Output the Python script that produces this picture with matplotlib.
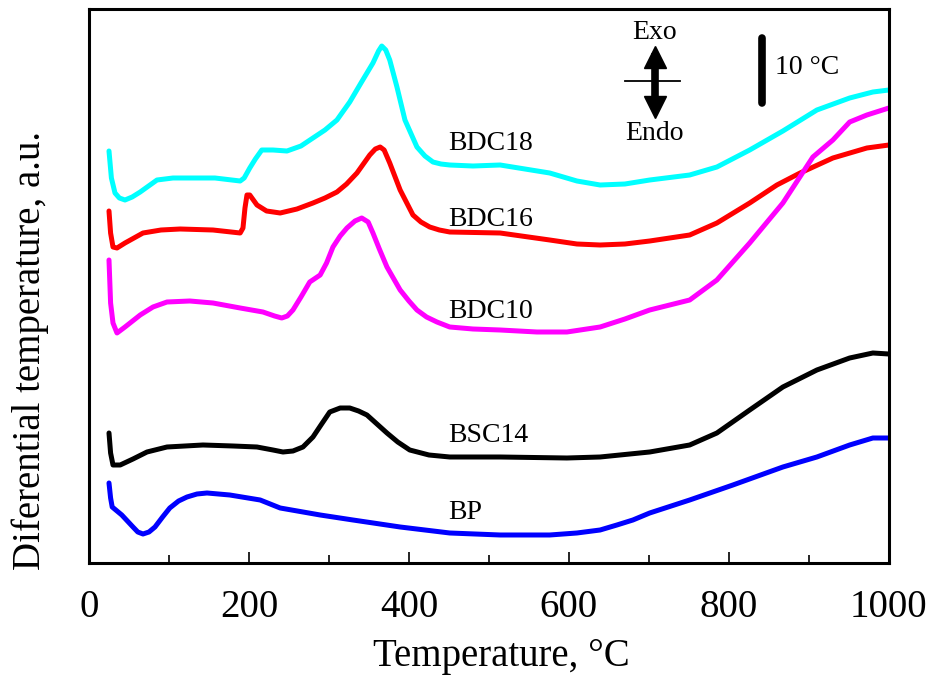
import numpy as np
import matplotlib
matplotlib.use('Agg')
import matplotlib.pyplot as plt
from matplotlib.ticker import MultipleLocator

plt.rcParams['font.family'] = ['Liberation Serif', 'DejaVu Serif']

# Curves: temperature (C) and differential temperature (a.u.)
bdc18_t = [25, 28, 32.5, 38, 45, 54, 64, 85, 105, 126, 157.5, 189, 194, 201, 208, 216, 230, 247.5,
           265, 280, 295, 310, 326, 340, 355, 362, 366, 371, 376, 385, 395, 410, 420, 430, 440,
           451, 480, 514, 545, 576, 610, 639, 670, 701, 751, 785, 826, 867.5, 910, 951, 980, 1000]
bdc18_v = [412, 385, 370, 365, 363, 366, 371, 383, 385, 385, 385, 382, 385, 395, 404, 413, 413, 412,
           417, 425, 433, 443, 461, 480, 500, 512, 517, 513, 503, 476, 443, 416, 407, 401, 399,
           398, 397, 398, 394, 390, 382, 378, 379, 383, 388, 396, 413, 432, 453, 465, 471, 473]

bdc16_t = [25, 27, 30, 35, 45, 67.5, 90, 114, 155, 189, 192.5, 195, 197.5, 201, 210, 222, 239,
           260, 280, 295, 310, 322, 335, 351, 358, 364, 369, 376, 389, 405, 415, 426, 438, 451,
           514, 576, 610, 639, 670, 701, 751, 785, 826, 860, 889, 930, 972.5, 1000]
bdc16_v = [352, 330, 316, 315, 320, 330, 333, 334, 333, 330, 335, 355, 368, 368, 358, 352, 350,
           354, 360, 365, 371, 379, 390, 408, 414, 416, 413, 400, 373, 348, 341, 336, 333, 331,
           330, 323, 319, 318, 319, 322, 328, 340, 360, 378, 390, 405, 415, 418]

bdc10_t = [25, 27, 30, 35, 45, 64, 80, 97.5, 126, 155, 189, 217.5, 232, 241, 248, 255, 265, 276,
           289, 297, 305, 314, 322.5, 332.5, 341, 349, 355, 363, 372.5, 389, 400, 410, 422, 435,
           451, 480, 514, 560, 597.5, 639, 670, 701, 751, 785, 826, 867.5, 905, 930, 951,
           972.5, 1000]
bdc10_v = [303, 260, 240, 230, 236, 248, 256, 261, 262, 260, 255, 251, 247, 245, 247, 253, 266, 281,
           288, 300, 316, 327, 335, 342, 345, 341, 330, 314, 296, 273, 262, 253, 246, 241,
           236, 234, 233, 231, 231, 236, 244, 253, 263, 283, 320, 360, 406, 423, 441,
           448, 455]

bsc14_t = [25, 27, 30, 39, 55, 72.5, 97.5, 142.5, 180, 210, 230, 242.5, 255, 267.5, 280, 290, 301,
           314, 326, 337, 347.5, 360, 372.5, 386, 401, 425, 451, 514, 597.5, 639, 701, 751, 785,
           826, 867.5, 910, 951, 980, 1000]
bsc14_v = [130, 110, 98, 98, 104, 111, 116, 118, 117, 116, 113, 111, 112, 116, 126, 138, 151,
           155, 155, 152, 148, 139, 130, 121, 113, 108, 106, 106, 105, 106, 111, 118, 130,
           153, 176, 193, 205, 210, 209]

bp_t = [25, 27, 29, 35, 41, 48, 55, 61, 67.5, 75, 82.5, 92, 101, 112, 122.5, 135, 147.5, 176,
        214, 239, 289, 330, 389, 451, 514, 576, 610, 639, 660, 680, 701, 751, 805, 867.5, 910,
        951, 980, 1000]
bp_v = [80, 65, 56, 52, 48, 42, 36, 31, 29, 31, 36, 46, 55, 62, 66, 69, 70, 68,
        63, 55, 48, 43, 36, 30, 28, 28, 30, 33, 38, 43, 50, 63, 78, 96, 106,
        118, 125, 125]

names = ['BDC18', 'BDC16', 'BDC10', 'BSC14', 'BP']
colors = ['#00ffff', '#ff0000', '#ff00ff', '#000000', '#0000ff']
label_x = 449
label_y = [420, 343, 251, 127, 50]

series = [(bdc18_t, bdc18_v), (bdc16_t, bdc16_v), (bdc10_t, bdc10_v),
          (bsc14_t, bsc14_v), (bp_t, bp_v)]

fig = plt.figure(figsize=(9.29, 6.77), dpi=100)
ax = fig.add_axes([0.0958, 0.1684, 0.861, 0.8183])

for (t, v), c in zip(series, colors):
    ax.plot(t, v, color=c, lw=3.6, solid_joinstyle='round', solid_capstyle='round')

for name, y in zip(names, label_y):
    ax.text(label_x, y, name, fontsize=20, ha='left', va='center')

ax.set_xlim(0, 1000)
ax.set_ylim(0, 554)
ax.xaxis.set_major_locator(MultipleLocator(200))
ax.xaxis.set_minor_locator(MultipleLocator(100))
ax.tick_params(axis='x', which='both', direction='in', top=False, width=1.2,
               labelsize=28, pad=19)
ax.tick_params(axis='x', which='major', length=8)
ax.tick_params(axis='x', which='minor', length=6)
ax.set_yticks([])
for s in ax.spines.values():
    s.set_linewidth(2.2)

ax.set_xlabel('Temperature, °C', fontsize=28)
ax.xaxis.set_label_coords(0.515, -0.135)
ax.set_ylabel('Diferential temperature, a.u.', fontsize=28)
ax.yaxis.set_label_coords(-0.05, 0.384)

# Exo / Endo indicator
tr = ax.transAxes
ax.text(0.7075, 0.957, 'Exo', transform=tr, fontsize=20, ha='center', va='center')
ax.text(0.7075, 0.776, 'Endo', transform=tr, fontsize=20, ha='center', va='center')
ax.plot([0.7075, 0.7075], [0.913, 0.823], transform=tr, color='black', lw=5.5)
ax.plot([0.7075], [0.913], transform=tr, marker='^', ms=16, color='black')
ax.plot([0.7075], [0.823], transform=tr, marker='v', ms=16, color='black')
ax.plot([0.67, 0.739], [0.870, 0.870], transform=tr, color='black', lw=1.3)

# 10 C scale bar
ax.plot([0.841, 0.841], [0.948, 0.830], transform=tr, color='black', lw=5.5,
        solid_capstyle='round')
ax.text(0.858, 0.895, '10 °C', transform=tr, fontsize=20, ha='left', va='center')

fig.savefig('out.png', dpi=100)
